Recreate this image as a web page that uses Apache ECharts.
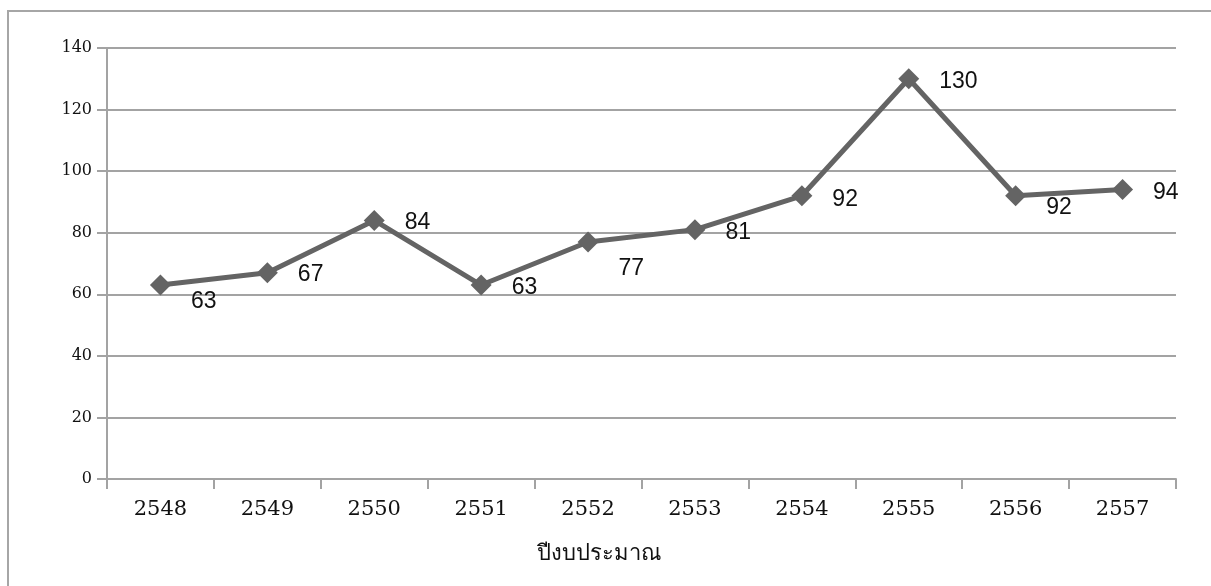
<!DOCTYPE html>
<html>
<head>
<meta charset="utf-8">
<script src="https://cdn.jsdelivr.net/npm/echarts@6/dist/echarts.min.js"></script>
<style>
  html, body { margin: 0; padding: 0; background: #ffffff; }
  #chart { width: 1211px; height: 586px; }
</style>
</head>
<body>
<div id="chart"></div>
<script>
// Fiscal years (Buddhist Era) and yearly counts
const years = ['2548', '2549', '2550', '2551', '2552', '2553', '2554', '2555', '2556', '2557'];
const counts = [63, 67, 84, 63, 77, 81, 92, 130, 92, 94];
const yTicks = { min: 0, max: 140, interval: 20 };
const xAxisTitle = 'ปีงบประมาณ';

// Vertical nudge of each value label, in pixels
const labelShiftY = [17, 2, 2, 3, 27, 3, 4, 3, 12, 3];

const gridColor = '#a3a3a3';
const lineColor = '#646464';

const chart = echarts.init(document.getElementById('chart'), null, { renderer: 'canvas' });

chart.setOption({
  backgroundColor: '#ffffff',
  animation: false,
  graphic: [{
    type: 'rect',
    shape: { x: 8, y: 11, width: 1400, height: 800 },
    style: { fill: 'none', stroke: '#a6a6a6', lineWidth: 2 },
    silent: true
  }],
  grid: { left: 107, right: 35, top: 48, bottom: 107, containLabel: false },
  xAxis: {
    type: 'category',
    data: years,
    boundaryGap: true,
    name: xAxisTitle,
    nameLocation: 'middle',
    nameGap: 64,
    nameTextStyle: {
      fontFamily: '"Noto Sans", "DejaVu Sans", sans-serif',
      fontSize: 22,
      color: '#111111',
      padding: [0, 86, 0, 0]
    },
    axisLine: { show: true, lineStyle: { color: gridColor, width: 2 } },
    axisTick: { show: true, alignWithLabel: false, length: 10, lineStyle: { color: gridColor, width: 2 } },
    axisLabel: {
      margin: 20,
      fontFamily: '"DejaVu Serif", "Liberation Serif", serif',
      fontSize: 21,
      color: '#111111'
    },
    splitLine: { show: false }
  },
  yAxis: {
    type: 'value',
    min: yTicks.min,
    max: yTicks.max,
    interval: yTicks.interval,
    axisLine: { show: true, lineStyle: { color: gridColor, width: 2 } },
    axisTick: { show: true, length: 10, lineStyle: { color: gridColor, width: 2 } },
    axisLabel: {
      margin: 15,
      fontFamily: '"DejaVu Serif", "Liberation Serif", serif',
      fontSize: 16,
      color: '#111111'
    },
    splitLine: { show: true, lineStyle: { color: gridColor, width: 2 } }
  },
  series: [{
    type: 'line',
    data: counts.map((v, i) => ({
      value: v,
      label: { offset: [0, labelShiftY[i]] }
    })),
    symbol: 'diamond',
    symbolSize: 21,
    lineStyle: { color: lineColor, width: 5 },
    itemStyle: { color: lineColor },
    label: {
      show: true,
      position: 'right',
      distance: 20,
      fontFamily: '"Liberation Sans", "DejaVu Sans", sans-serif',
      fontSize: 23,
      color: '#111111'
    },
    z: 3
  }]
});
</script>
</body>
</html>
